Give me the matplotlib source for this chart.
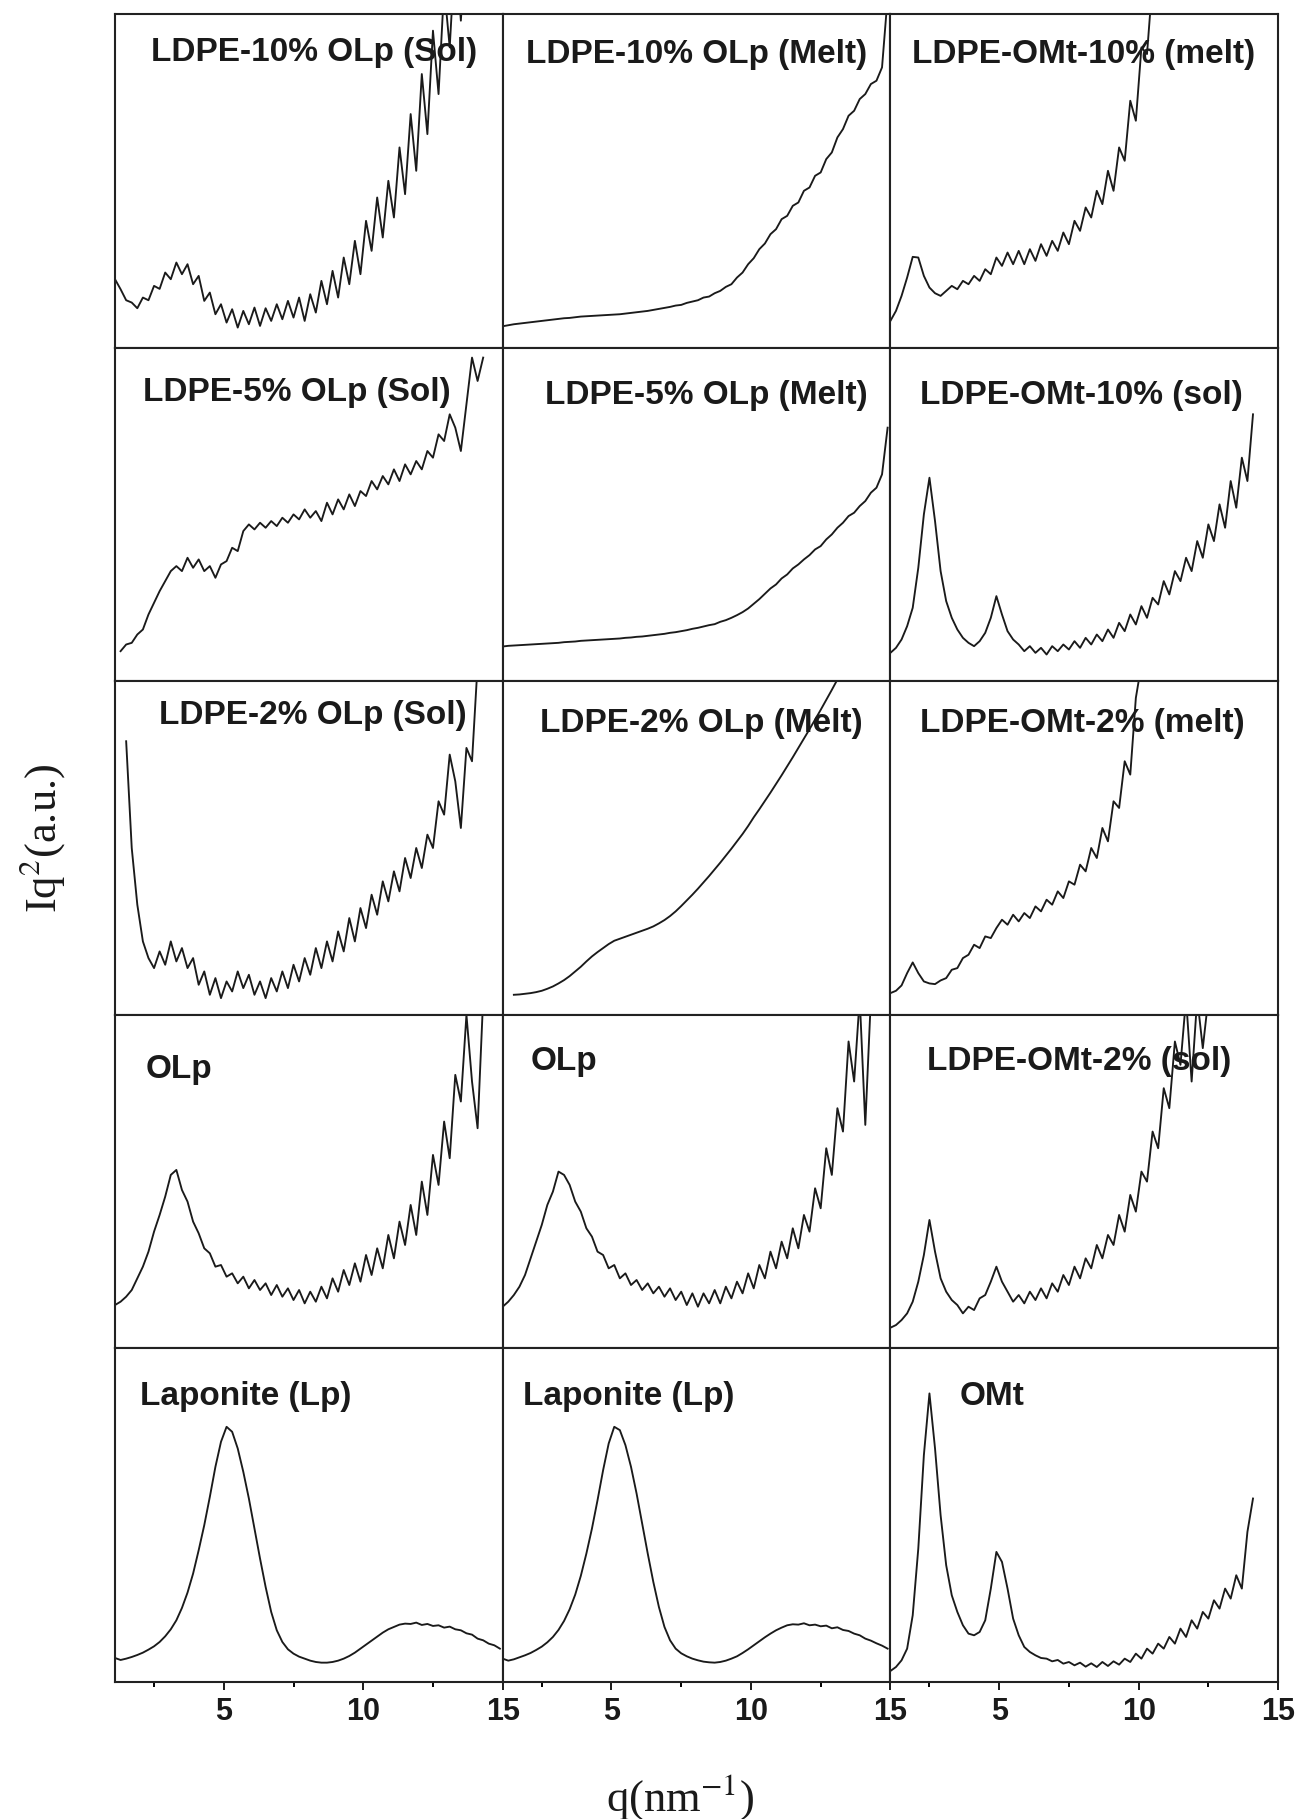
import numpy as np
import matplotlib.pyplot as plt

nan = np.nan

# common q grid (nm^-1)
q = [1.1, 1.3, 1.5, 1.7, 1.9, 2.1, 2.3, 2.5, 2.7, 2.9, 3.1, 3.3, 3.5, 3.7, 3.9,
     4.1, 4.3, 4.5, 4.7, 4.9, 5.1, 5.3, 5.5, 5.7, 5.9, 6.1, 6.3, 6.5, 6.7, 6.9,
     7.1, 7.3, 7.5, 7.7, 7.9, 8.1, 8.3, 8.5, 8.7, 8.9, 9.1, 9.3, 9.5, 9.7, 9.9,
     10.1, 10.3, 10.5, 10.7, 10.9, 11.1, 11.3, 11.5, 11.7, 11.9, 12.1, 12.3, 12.5,
     12.7, 12.9, 13.1, 13.3, 13.5, 13.7, 13.9, 14.1, 14.3, 14.5, 14.7, 14.9]

# Iq^2 in arbitrary units (0 = panel bottom, 1 = panel top)
ldpe10_olp_sol = [.205, .175, .142, .135, .118, .15, .142, .185, .176, .225, .205, .255, .22, .25, .19,
                  .215, .14, .165, .10, .13, .075, .115, .06, .11, .07, .12, .065, .118, .08, .13,
                  .085, .14, .09, .15, .08, .16, .105, .2, .13, .23, .15, .27, .19, .32, .22,
                  .38, .29, .45, .33, .5, .39, .6, .46, .7, .53, .82, .64, .95, .76, 1.08,
                  .9, 1.2, .98, 1.25]
ldpe10_olp_melt = [.064, .067, .07, .072, .074, .076, .078, .08, .082, .084, .086, .088, .089, .091, .093,
                   .094, .095, .096, .097, .098, .099, .1, .102, .104, .106, .108, .11, .113, .116, .119,
                   .122, .126, .128, .134, .138, .142, .15, .153, .163, .17, .182, .19, .21, .225, .25,
                   .268, .295, .312, .34, .355, .385, .395, .425, .435, .47, .48, .515, .525, .565, .585,
                   .63, .655, .695, .71, .745, .76, .79, .8, .84, 1.05]
ldpe_omt10_melt = [.08, .11, .155, .21, .272, .27, .215, .18, .163, .155, .17, .185, .175, .2, .19,
                   .215, .2, .235, .22, .27, .245, .285, .25, .29, .25, .295, .26, .31, .275, .32,
                   .29, .345, .31, .38, .35, .42, .39, .47, .43, .53, .47, .6, .56, .74, .68,
                   .9, .88, 1.1, 1.15]

ldpe5_olp_sol = [nan, .09, .11, .115, .14, .155, .2, .235, .27, .3, .33, .345, .33, .37, .34,
                 .365, .33, .345, .31, .35, .36, .4, .39, .45, .47, .455, .475, .46, .48, .465,
                 .49, .475, .5, .485, .515, .49, .51, .48, .535, .5, .545, .515, .56, .525, .57,
                 .555, .6, .575, .615, .59, .635, .6, .65, .62, .66, .635, .69, .67, .74, .72,
                 .8, .76, .69, .83, .97, .9, .97]
ldpe5_olp_melt = [.104, .106, .107, .108, .109, .11, .111, .112, .113, .114, .115, .117, .118, .119, .121,
                  .122, .123, .124, .125, .126, .127, .128, .13, .131, .133, .134, .136, .138, .14, .142,
                  .145, .147, .15, .153, .157, .16, .164, .168, .171, .178, .183, .19, .198, .207, .218,
                  .232, .246, .262, .278, .29, .308, .32, .338, .35, .365, .378, .395, .405, .425, .44,
                  .46, .475, .495, .505, .525, .54, .565, .58, .62, .76]
ldpe_omt10_sol = [.085, .1, .125, .165, .22, .34, .5, .61, .48, .33, .24, .19, .155, .13, .115,
                  .105, .12, .145, .19, .255, .2, .15, .125, .11, .09, .105, .085, .1, .08, .105,
                  .09, .11, .095, .12, .1, .13, .11, .14, .12, .155, .13, .175, .15, .2, .17,
                  .225, .19, .25, .23, .3, .26, .33, .3, .37, .33, .42, .37, .47, .42, .53,
                  .46, .6, .52, .67, .6, .8]

ldpe2_olp_sol = [nan, nan, .82, .5, .33, .22, .17, .14, .19, .15, .22, .16, .2, .14, .17,
                 .09, .13, .06, .11, .05, .1, .07, .13, .08, .12, .06, .1, .05, .11, .07,
                 .13, .08, .15, .1, .17, .12, .2, .14, .22, .16, .25, .19, .29, .22, .32,
                 .26, .36, .3, .4, .34, .43, .37, .47, .41, .5, .44, .54, .5, .64, .6,
                 .78, .7, .56, .8, .76, 1.05]
ldpe2_olp_melt = [nan, nan, .06, .061, .063, .065, .068, .072, .078, .085, .094, .104, .116, .13, .144,
                  .16, .175, .188, .2, .212, .222, .228, .234, .24, .246, .252, .258, .265, .274, .284,
                  .296, .31, .326, .343, .36, .378, .397, .416, .436, .456, .477, .498, .52, .542, .566,
                  .592, .616, .641, .666, .692, .718, .745, .772, .8, .828, .856, .885, .914, .944, .974,
                  1.005, 1.04]
ldpe_omt2_melt = [.065, .072, .088, .125, .157, .125, .1, .094, .092, .103, .11, .135, .14, .17, .18,
                  .21, .2, .235, .23, .26, .285, .27, .3, .28, .305, .29, .325, .31, .345, .33,
                  .37, .35, .4, .39, .45, .43, .5, .47, .56, .52, .64, .62, .76, .72, .95,
                  1.05]

olp_a = [.13, .14, .155, .175, .21, .245, .29, .35, .4, .455, .52, .535, .475, .44, .38,
         .345, .3, .285, .245, .25, .215, .225, .195, .215, .18, .205, .175, .195, .16, .19,
         .155, .18, .145, .175, .135, .17, .14, .185, .15, .21, .17, .235, .19, .255, .2,
         .28, .22, .3, .24, .34, .27, .38, .31, .43, .34, .5, .4, .58, .49, .68,
         .57, .82, .74, 1.0, .8, .66, 1.05]
olp_b = [.125, .14, .16, .185, .22, .27, .32, .37, .43, .47, .53, .52, .49, .44, .41,
         .36, .335, .29, .28, .24, .25, .21, .225, .19, .205, .175, .195, .165, .185, .155,
         .18, .145, .17, .13, .165, .125, .165, .135, .175, .135, .185, .15, .2, .165, .225,
         .18, .25, .21, .29, .24, .32, .27, .36, .3, .4, .35, .48, .42, .6, .52,
         .72, .65, .92, .8, 1.05, .67, 1.05]
ldpe_omt2_sol = [.062, .07, .085, .105, .14, .2, .28, .385, .29, .21, .17, .145, .13, .105, .125,
                 .115, .15, .16, .2, .245, .2, .17, .14, .16, .135, .17, .145, .18, .15, .195,
                 .17, .22, .19, .245, .21, .27, .24, .31, .27, .34, .31, .4, .35, .46, .41,
                 .53, .5, .65, .6, .78, .72, .92, .85, 1.05, .8, 1.05, .9, 1.05]

laponite_a = [.072, .066, .07, .075, .081, .088, .097, .107, .12, .137, .158, .185, .222, .268, .325,
              .395, .47, .555, .645, .72, .765, .75, .7, .63, .55, .46, .37, .285, .21, .155,
              .12, .098, .085, .076, .07, .064, .06, .058, .058, .06, .064, .07, .078, .088, .1,
              .112, .124, .136, .148, .158, .165, .172, .175, .174, .178, .171, .174, .168, .17, .163,
              .166, .158, .155, .146, .142, .13, .125, .115, .11, .1]
laponite_b = [.07, .064, .068, .074, .08, .087, .096, .106, .119, .135, .156, .183, .218, .262, .318,
              .385, .46, .545, .635, .715, .765, .755, .71, .645, .565, .475, .385, .3, .225, .165,
              .125, .1, .086, .077, .07, .065, .061, .059, .058, .06, .064, .07, .077, .087, .098,
              .11, .122, .134, .145, .155, .163, .17, .173, .172, .176, .17, .172, .167, .169, .161,
              .164, .156, .153, .145, .14, .13, .124, .116, .109, .1]
omt = [.033, .045, .065, .1, .2, .4, .68, .865, .7, .5, .35, .26, .21, .17, .145,
       .14, .15, .185, .28, .39, .36, .28, .19, .14, .105, .09, .08, .072, .07, .062,
       .066, .055, .06, .05, .058, .046, .056, .045, .06, .048, .062, .052, .07, .06, .085,
       .07, .1, .085, .115, .1, .135, .115, .16, .135, .185, .16, .21, .19, .245, .22,
       .28, .25, .32, .28, .45, .55]

titles = [
    ["LDPE-10% OLp (Sol)", "LDPE-10% OLp (Melt)", "LDPE-OMt-10% (melt)"],
    ["LDPE-5% OLp (Sol)", "LDPE-5% OLp (Melt)", "LDPE-OMt-10% (sol)"],
    ["LDPE-2% OLp (Sol)", "LDPE-2% OLp (Melt)", "LDPE-OMt-2% (melt)"],
    ["OLp", "OLp", "LDPE-OMt-2% (sol)"],
    ["Laponite (Lp)", "Laponite (Lp)", "OMt"],
]
curves = [
    [ldpe10_olp_sol, ldpe10_olp_melt, ldpe_omt10_melt],
    [ldpe5_olp_sol, ldpe5_olp_melt, ldpe_omt10_sol],
    [ldpe2_olp_sol, ldpe2_olp_melt, ldpe_omt2_melt],
    [olp_a, olp_b, ldpe_omt2_sol],
    [laponite_a, laponite_b, omt],
]
# title placement in axes fraction (x, y)
title_pos = [
    [(.513, .886), (.501, .88), (.499, .88)],
    [(.468, .866), (.524, .856), (.492, .856)],
    [(.509, .896), (.513, .874), (.496, .874)],
    [(.164, .835), (.157, .859), (.487, .859)],
    [(.336, .857), (.326, .857), (.262, .857)],
]

W, H = 1302, 1819
fig = plt.figure(figsize=(W / 100, H / 100), dpi=100)

left, top = 115, 14
pw, ph = 387.7, 333.6
ink = '#1a1a1a'

for r in range(5):
    for c in range(3):
        x0 = (left + c * pw) / W
        y0 = 1 - (top + (r + 1) * ph) / H
        ax = fig.add_axes([x0, y0, pw / W, ph / H])
        vals = curves[r][c]
        ax.plot(q[:len(vals)], vals, color=ink, lw=1.35)
        ax.set_xlim(1.1, 15)
        ax.set_ylim(0, 1)
        ax.set_yticks([])
        for s in ax.spines.values():
            s.set_linewidth(1.5)
            s.set_color('#222222')
        tx, ty = title_pos[r][c]
        ax.text(tx, ty, titles[r][c], transform=ax.transAxes, ha='center', va='center',
                fontsize=24, fontweight='bold', family='Liberation Sans', color='#1a1a1a')
        if r == 4:
            ax.set_xticks([5, 10, 15])
            ax.set_xticks([2.5, 7.5, 12.5], minor=True)
            ax.tick_params(axis='x', which='major', direction='out', length=6, width=1.4,
                           pad=5, labelsize=22, colors='#1a1a1a')
            ax.tick_params(axis='x', which='minor', direction='out', length=3.5, width=1.4)
            for lab in ax.get_xticklabels():
                lab.set_fontweight('bold')
                lab.set_family('Liberation Sans')
        else:
            ax.set_xticks([])

plt.rcParams['mathtext.fontset'] = 'stix'
fig.text(42 / W, 1 - 838 / H, r'Iq$^{2}$(a.u.)', rotation=90, ha='center', va='center',
         fontsize=32, family='Liberation Serif', color='#1a1a1a')
fig.text(680 / W, 1 - 1797 / H, r'q(nm$^{-1}$)', ha='center', va='center',
         fontsize=32, family='Liberation Serif', color='#1a1a1a')

fig.savefig('out.png', dpi=100)
